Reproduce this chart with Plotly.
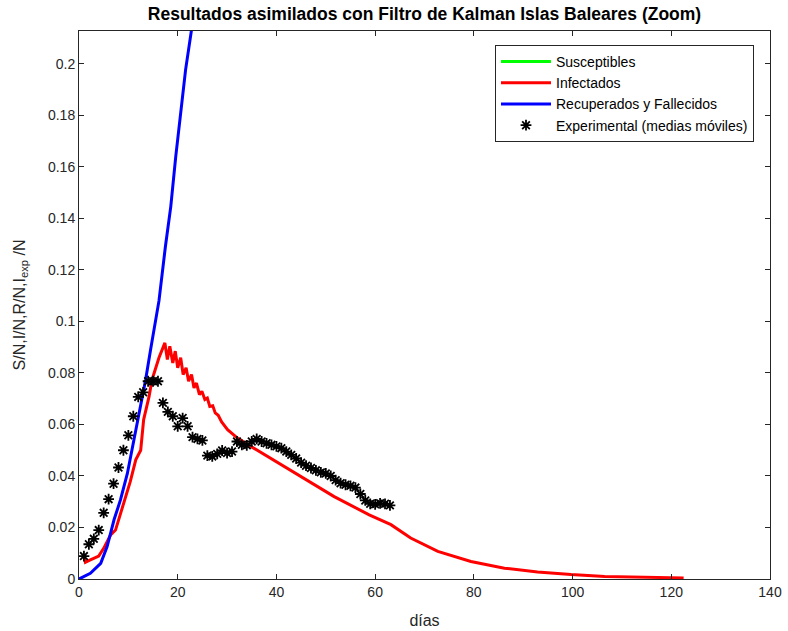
import plotly.graph_objects as go

# Experimental (moving averages)
exp_days = list(range(1, 64))
exp_vals = [0.0089, 0.0135, 0.0156, 0.0190, 0.0257, 0.0310, 0.0370, 0.0433, 0.0500, 0.0558,
            0.0632, 0.0707, 0.0725, 0.0768, 0.0768, 0.0768, 0.0684, 0.0649, 0.0632, 0.0593,
            0.0625, 0.0593, 0.0551, 0.0544, 0.0538, 0.0479, 0.0476, 0.0486, 0.0499, 0.0489,
            0.0495, 0.0534, 0.0521, 0.0519, 0.0534, 0.0544, 0.0534, 0.0527, 0.0521, 0.0515,
            0.0508, 0.0495, 0.0482, 0.0468, 0.0452, 0.0440, 0.0431, 0.0422, 0.0414, 0.0410,
            0.0400, 0.0384, 0.0372, 0.0366, 0.0362, 0.0355, 0.0330, 0.0305, 0.0292, 0.0290,
            0.0294, 0.0292, 0.0286]

# Infectados (model)
inf_days = [1.0, 1.3, 2.3, 4.0, 5.0, 6.4, 7.4, 8.4, 9.4, 10.4, 11.5, 12.5, 13.1, 14.2, 14.8,
            15.9, 16.2, 17.4, 17.9, 18.4, 19.0, 19.5, 20.0, 20.6, 21.1, 21.7, 22.2, 22.8,
            23.3, 23.8, 24.4, 24.9, 25.5, 26.0, 26.5, 27.1, 27.6, 28.2, 28.9, 30.1, 32.1,
            34.8, 38.5, 44.9, 51.7, 58.8, 63.2, 67.2, 72.7, 79.4, 86.2, 92.9, 99.7, 106.5,
            113.2, 122.5]
inf_vals = [0.0093, 0.0065, 0.0074, 0.0089, 0.0119, 0.0171, 0.0190, 0.0256, 0.0320, 0.0379,
            0.0463, 0.0500, 0.0619, 0.0709, 0.0774, 0.0839, 0.0859, 0.0917, 0.0852, 0.0904,
            0.0839, 0.0885, 0.0820, 0.0859, 0.0794, 0.0820, 0.0768, 0.0794, 0.0742, 0.0761,
            0.0716, 0.0729, 0.0697, 0.0703, 0.0670, 0.0673, 0.0645, 0.0636, 0.0610, 0.0580,
            0.0547, 0.0515, 0.0473, 0.0398, 0.0320, 0.0249, 0.0211, 0.0159, 0.0107, 0.0068,
            0.0042, 0.0027, 0.0017, 0.0010, 0.0008, 0.0004]

# Recuperados y Fallecidos (model)
rec_days = [0.0, 2.3, 4.4, 5.7, 7.1, 8.4, 9.8, 11.1, 12.5, 13.5, 14.5, 15.5, 16.2, 17.5,
            18.6, 19.6, 20.6, 21.6, 22.8, 23.0]
rec_vals = [0.0, 0.0022, 0.0061, 0.0126, 0.0230, 0.0307, 0.0410, 0.0540, 0.0670, 0.0774,
            0.0890, 0.0995, 0.1080, 0.1290, 0.1447, 0.1640, 0.1810, 0.1978, 0.2133, 0.2170]

x_ticks = [0, 20, 40, 60, 80, 100, 120, 140]
y_ticks = [0, 0.02, 0.04, 0.06, 0.08, 0.1, 0.12, 0.14, 0.16, 0.18, 0.2]
y_tick_text = ["0", "0.02", "0.04", "0.06", "0.08", "0.1", "0.12", "0.14", "0.16", "0.18", "0.2"]

FONT = "Liberation Sans, Arial, sans-serif"
AX = "#262626"

fig = go.Figure()
fig.add_trace(go.Scatter(x=[None], y=[None], mode="lines", name="Susceptibles",
                         line=dict(color="#00ff00", width=3)))
fig.add_trace(go.Scatter(x=inf_days, y=inf_vals, mode="lines", name="Infectados",
                         line=dict(color="#ff0000", width=3)))
fig.add_trace(go.Scatter(x=rec_days, y=rec_vals, mode="lines", name="Recuperados y Fallecidos",
                         line=dict(color="#0000ff", width=3)))
fig.add_trace(go.Scatter(x=exp_days, y=exp_vals, mode="markers",
                         name="Experimental (medias móviles)",
                         marker=dict(symbol="asterisk-open", size=9, color="black",
                                     line=dict(color="black", width=1.8)),
                         cliponaxis=True))

fig.update_layout(
    width=788, height=631,
    margin=dict(l=79, r=18, t=31, b=52, autoexpand=False),
    paper_bgcolor="white", plot_bgcolor="white",
    font=dict(family=FONT, size=13, color=AX),
    title=dict(text="<b>Resultados asimilados con Filtro de Kalman Islas Baleares (Zoom)</b>",
               x=(79 + 770) / 2 / 788, xanchor="center", y=1 - 14 / 631, yanchor="middle",
               font=dict(family=FONT, size=17.5, color="black")),
    showlegend=True,
    legend=dict(x=(495 - 79) / 691, y=(579 - 45) / 548, xanchor="left", yanchor="top",
                bgcolor="white", bordercolor=AX, borderwidth=1,
                font=dict(family=FONT, size=14, color="black"),
                itemwidth=50, tracegroupgap=0),
    xaxis=dict(range=[0, 140], tickvals=x_ticks, ticks="inside", ticklen=5, tickcolor=AX,
               showline=True, linecolor=AX, linewidth=1, mirror="allticks", showgrid=False,
               zeroline=False, tickfont=dict(size=14, color=AX), automargin=False,
               title=dict(text="días", font=dict(size=16, color=AX), standoff=16)),
    yaxis=dict(range=[0, 0.2128], tickvals=y_ticks, ticktext=y_tick_text, ticks="inside",
               ticklen=5, tickcolor=AX, showline=True, linecolor=AX, linewidth=1,
               mirror="allticks", showgrid=False, zeroline=False, automargin=False,
               tickfont=dict(size=14, color=AX),
               title=dict(text="S/N,I/N,R/N,I<sub>exp</sub> /N", font=dict(size=16, color=AX),
                          standoff=18)),
)

fig.write_html("out.html", config={"displayModeBar": False},
               post_script="document.body.style.margin='0';")
